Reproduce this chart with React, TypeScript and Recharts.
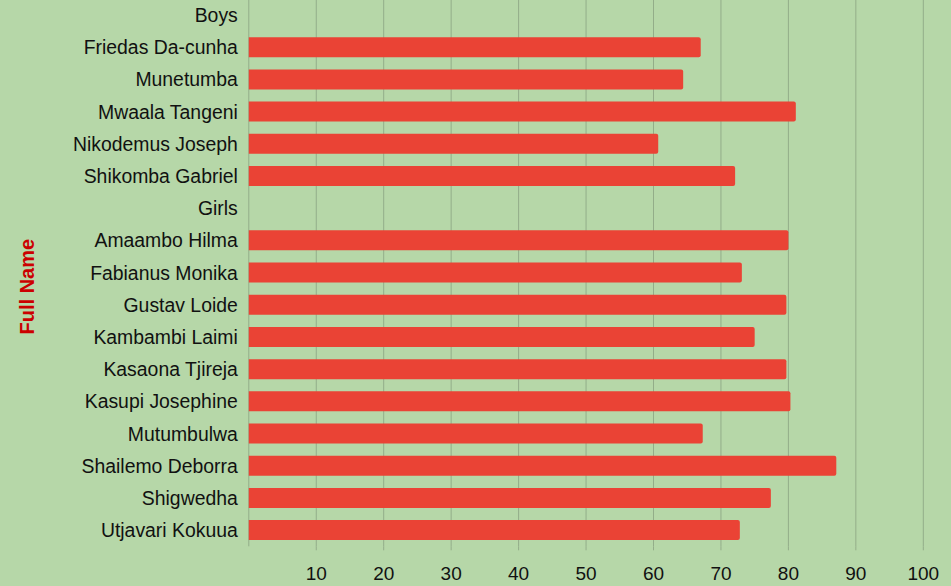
import React from 'react';
import { BarChart, Bar, XAxis, YAxis, CartesianGrid, Label } from 'recharts';

// Names, with the two group headers kept as empty rows
const names = [
    'Boys',
    'Friedas Da-cunha',
    'Munetumba',
    'Mwaala Tangeni',
    'Nikodemus Joseph',
    'Shikomba Gabriel',
    'Girls',
    'Amaambo Hilma',
    'Fabianus Monika',
    'Gustav Loide',
    'Kambambi Laimi',
    'Kasaona Tjireja',
    'Kasupi Josephine',
    'Mutumbulwa',
    'Shailemo Deborra',
    'Shigwedha',
    'Utjavari Kokuua',
];

const scores: (number | null)[] = [
    null, 67.0, 64.4, 81.1, 60.7, 72.1,
    null, 80.0, 73.1, 79.7, 75.0, 79.7, 80.3, 67.3, 87.1, 77.4, 72.8,
];

const xTicks = [10, 20, 30, 40, 50, 60, 70, 80, 90, 100];

const FONT = '"Liberation Sans", Arial, sans-serif';
const GRID = '#93ad89';

export default function App() {
    const data = names.map((name, i) => ({ name, score: scores[i] }));

    return (
        <div style={{ position: 'absolute', left: 0, top: 0, width: 951, height: 586, overflow: 'hidden', background: '#b6d7a8' }}>
            <div style={{ position: 'absolute', left: 0, top: -5 }}>
                <BarChart
                    width={951}
                    height={600}
                    data={data}
                    layout="vertical"
                    margin={{ top: 4, right: 27.7, bottom: 18.7, left: 0 }}
                    style={{ fontFamily: FONT }}
                >
                    <CartesianGrid horizontal={false} stroke={GRID} strokeWidth={1} />
                    <XAxis
                        type="number"
                        domain={[0, 100]}
                        ticks={xTicks}
                        axisLine={false}
                        tickLine={{ stroke: GRID }}
                        tickSize={4}
                        tickMargin={16}
                        height={30}
                        tick={{ fontSize: 19, fill: '#111' }}
                    />
                    <YAxis
                        type="category"
                        dataKey="name"
                        width={248.8}
                        interval={0}
                        axisLine={false}
                        tickLine={false}
                        tickSize={0}
                        tickMargin={11}
                        tick={{ fontSize: 19.4, fill: '#111' }}
                    >
                        <Label
                            content={({ viewBox }: any) => (
                                <text
                                    x={27}
                                    y={viewBox.y + viewBox.height / 2 + 14}
                                    transform={`rotate(-90, 27, ${viewBox.y + viewBox.height / 2 + 14})`}
                                    textAnchor="middle"
                                    dominantBaseline="central"
                                    fontSize={20}
                                    fontWeight="bold"
                                    fill="#cc0000"
                                    fontFamily={FONT}
                                >
                                    Full Name
                                </text>
                            )}
                        />
                    </YAxis>
                    <Bar dataKey="score" fill="#ea4335" barSize={20} radius={[0, 2, 2, 0]} isAnimationActive={false} />
                </BarChart>
            </div>
        </div>
    );
}
